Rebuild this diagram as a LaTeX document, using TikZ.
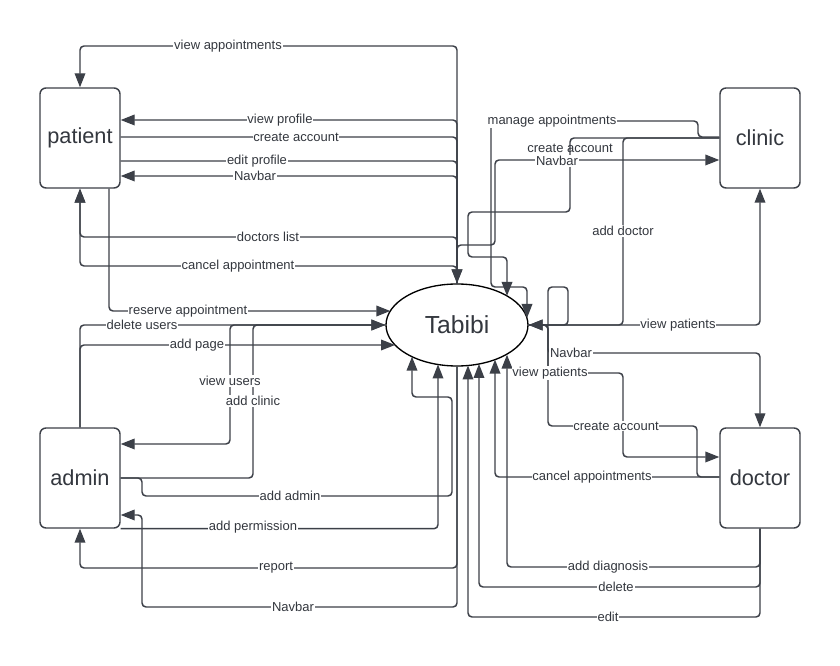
\documentclass[tikz,border=0pt]{standalone}
\usepackage{fontspec}
\setmainfont{Liberation Sans}
\usetikzlibrary{arrows.meta,shapes.geometric}
\definecolor{ln}{RGB}{60,64,72}
\definecolor{tx}{RGB}{51,55,62}
\begin{document}
\begin{tikzpicture}[x=0.75pt,y=-0.75pt,
  conn/.style={draw=ln,line width=1.1pt,rounded corners=3pt},
  tip/.style={arrows={-{Triangle[length=10.5pt,width=8pt]}}},
  rtip/.style={arrows={{Triangle[length=10.5pt,width=8pt]}-}},
  ent/.style={draw=ln,line width=1.1pt,rounded corners=4.5pt,minimum width=60pt,minimum height=75pt,inner sep=0pt,font=\fontsize{16.3}{18}\selectfont,text=tx},
  lbl/.style={fill=white,inner sep=0.6pt,font=\fontsize{9.75}{11}\selectfont,text=tx}]
\useasboundingbox (0,0) rectangle (840,666);
\fill[white] (0,0) rectangle (840,666);
% entities
\node[ent] (patient) at (80,138) {patient};
\node[ent] (admin) at (80,478) {admin};
\node[ent] (clinic) at (760,138) {clinic};
\node[ent] (doctor) at (760,478) {doctor};
\node[draw=black,line width=1pt,ellipse,minimum width=106.5pt,minimum height=61.5pt,inner sep=0pt,font=\fontsize{18.5}{20}\selectfont,text=tx] (T) at (457,325) {Tabibi};
% patient connectors
\draw[conn,rtip] (patient.north) |- (457,46) -- (T.north);
\draw[conn,rtip] (patient.east |- 0,120) -- (457,120) -- (T.north);
\draw[conn,tip] (patient.east |- 0,137) -- (457,137) -- (T.north);
\draw[conn,tip] (patient.east |- 0,161) -- (457,161) -- (T.north);
\draw[conn,rtip] (patient.east |- 0,176) -- (457,176) -- (T.north);
\draw[conn,rtip] (patient.south) |- (457,237) -- (T.north);
\draw[conn,rtip] (patient.south) |- (457,266) -- (T.north);
\draw[conn,tip] (patient.south -| 109,0) |- (390.3,311);
% admin connectors
\draw[conn,tip] (admin.north) |- (T.west);
\draw[conn,tip] (admin.north) |- (395,345);
\draw[conn,rtip] (admin.east |- 0,444) -| (230,325) -- (T.west);
\draw[conn,tip] (admin.east |- 0,478) -| (253,325) -- (T.west);
\draw[conn,tip] (admin.east |- 0,478) -| (142,496) -| (452,397) -| (412,356.7);
\draw[conn,tip] (admin.south east) -| (438,364.5);
\draw[conn,rtip] (admin.south) |- (457,568) -- (T.south);
\draw[conn,rtip] (admin.east |- 0,515) -| (142,607) -| (T.south);
% clinic connectors
\draw[conn,tip] (clinic.west |- 0,137) -| (698,121) -| (491,287) -| (527,318);
\draw[conn,tip] (clinic.west |- 0,138) -| (570,212) -| (468,257) -| (507,295.9);
\draw[conn,rtip] (clinic.west |- 0,160) -| (495,245) -| (T.north);
\draw[conn,tip] (clinic.west |- 0,138) -| (623,325) -- (T.east);
\draw[conn,rtip] (clinic.south) |- (T.east);
% doctor connectors
\draw[conn,tip] (doctor.west |- 0,477) -| (697,426) -| (548,287) -| (568,325) -- (T.east);
\draw[conn,rtip] (doctor.north) |- (548,353) |- (T.east);
\draw[conn,rtip] (doctor.west |- 0,457) -| (623,373) -| (548,325) -- (T.east);
\draw[conn,tip] (doctor.west |- 0,477) -| (495,359.6);
\draw[conn,tip] (doctor.south) |- (507,567) -- (507,354.7);
\draw[conn,tip] (doctor.south) |- (479,587) -- (479,364);
\draw[conn,tip] (doctor.south) |- (468,617) -- (468,365.5);
% labels
\node[lbl] (l1) at (228,46) {view appointments};
\node[lbl] (l2) at (280,120) {view profile};
\node[lbl] (l3) at (296,137) {create account};
\node[lbl] (l4) at (257,161) {edit profile};
\node[lbl] (l5) at (255,176) {Navbar};
\node[lbl] (l6) at (268,237) {doctors list};
\node[lbl] (l7) at (238,266) {cancel appointment};
\node[lbl] (l8) at (188,311) {reserve appointment};
\node[lbl] (l9) at (142,325) {delete users};
\node[lbl] (l10) at (197,345) {add page};
\node[lbl] (l11) at (230,381) {view users};
\node[lbl] (l12) at (253,401) {add clinic};
\node[lbl] (l13) at (290,496) {add admin};
\node[lbl] (l14) at (253,527) {add permission};
\node[lbl] (l15) at (276,568) {report};
\node[lbl] (l16) at (293,607) {Navbar};
\node[lbl] (l17) at (552,121) {manage appointments};
\node[lbl,fill=none] (l18) at (570,148.5) {create account};
\node[lbl] (l19) at (557,161) {Navbar};
\node[lbl] (l20) at (623,231) {add doctor};
\node[lbl] (l21) at (678,325) {view patients};
\node[lbl] (l22) at (571,353) {Navbar};
\node[lbl] (l23) at (550,373) {view patients};
\node[lbl] (l24) at (616,426) {create account};
\node[lbl] (l25) at (592,477) {cancel appointments};
\node[lbl] (l26) at (608,567) {add diagnosis};
\node[lbl] (l27) at (616,587) {delete};
\node[lbl] (l28) at (608,617) {edit};
\end{tikzpicture}
\end{document}
